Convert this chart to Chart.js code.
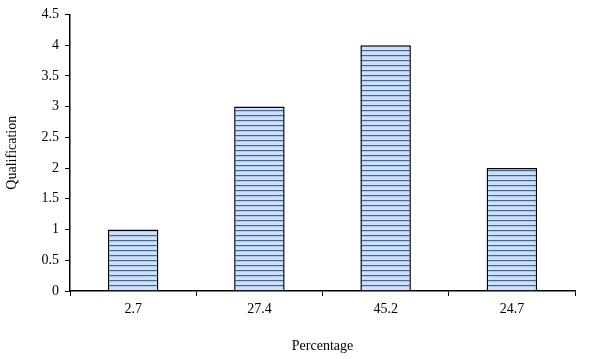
<!DOCTYPE html>
<html>
<head>
<meta charset="utf-8">
<script src="https://cdn.jsdelivr.net/npm/chart.js@4"></script>
<style>
  html, body { margin: 0; padding: 0; background: #fff; }
  #wrap { width: 596px; height: 359px; }
</style>
</head>
<body>
<div id="wrap"><canvas id="chart" width="596" height="359"></canvas></div>
<script>
// data
const categories = ['2.7', '27.4', '45.2', '24.7'];
const qualification = [1, 3, 4, 2];
const yTicks = [0, 0.5, 1, 1.5, 2, 2.5, 3, 3.5, 4, 4.5];

// horizontal stripe fill like the original
function stripes() {
    const c = document.createElement('canvas');
    c.width = 8;
    c.height = 5;
    const g = c.getContext('2d');
    g.fillStyle = '#cfe0f5';
    g.fillRect(0, 0, 8, 5);
    g.fillStyle = '#3d66aa';
    g.fillRect(0, 0, 8, 1.2);
    return g.createPattern(c, 'repeat');
}

const serif = 'Liberation Serif, Times New Roman, serif';
const ctx = document.getElementById('chart').getContext('2d');

new Chart(ctx, {
    type: 'bar',
    data: {
        labels: categories,
        datasets: [{
            label: 'Qualification',
            data: qualification,
            backgroundColor: stripes(),
            borderColor: '#000',
            borderWidth: 1.5,
            borderSkipped: 'bottom',
            barPercentage: 0.4,
            categoryPercentage: 1
        }]
    },
    options: {
        responsive: false,
        animation: false,
        layout: { padding: { top: 5, right: 21, left: 0, bottom: 0 } },
        plugins: {
            legend: { display: false },
            tooltip: { enabled: false }
        },
        scales: {
            x: {
                afterFit: s => { s.height = 68; },
                grid: { drawOnChartArea: false, color: '#000', tickLength: 5, lineWidth: 1 },
                border: { color: '#000', width: 1.5 },
                ticks: { color: '#000', font: { family: serif, size: 14 }, padding: 5 },
                title: {
                    display: true,
                    text: 'Percentage',
                    color: '#000',
                    font: { family: serif, size: 14 },
                    padding: { top: 18 }
                }
            },
            y: {
                min: 0,
                max: 4.5,
                afterFit: s => { s.width = 70; },
                afterBuildTicks: s => { s.ticks = yTicks.map(v => ({ value: v })); },
                grid: { drawOnChartArea: false, color: '#000', tickLength: 5, lineWidth: 1 },
                border: { color: '#000', width: 1.5 },
                ticks: {
                    color: '#000',
                    font: { family: serif, size: 14 },
                    padding: 6,
                    callback: v => String(v)
                },
                title: {
                    display: true,
                    text: 'Qualification',
                    color: '#000',
                    font: { family: serif, size: 14 },
                    padding: { bottom: 2 }
                }
            }
        }
    }
});
</script>
</body>
</html>
